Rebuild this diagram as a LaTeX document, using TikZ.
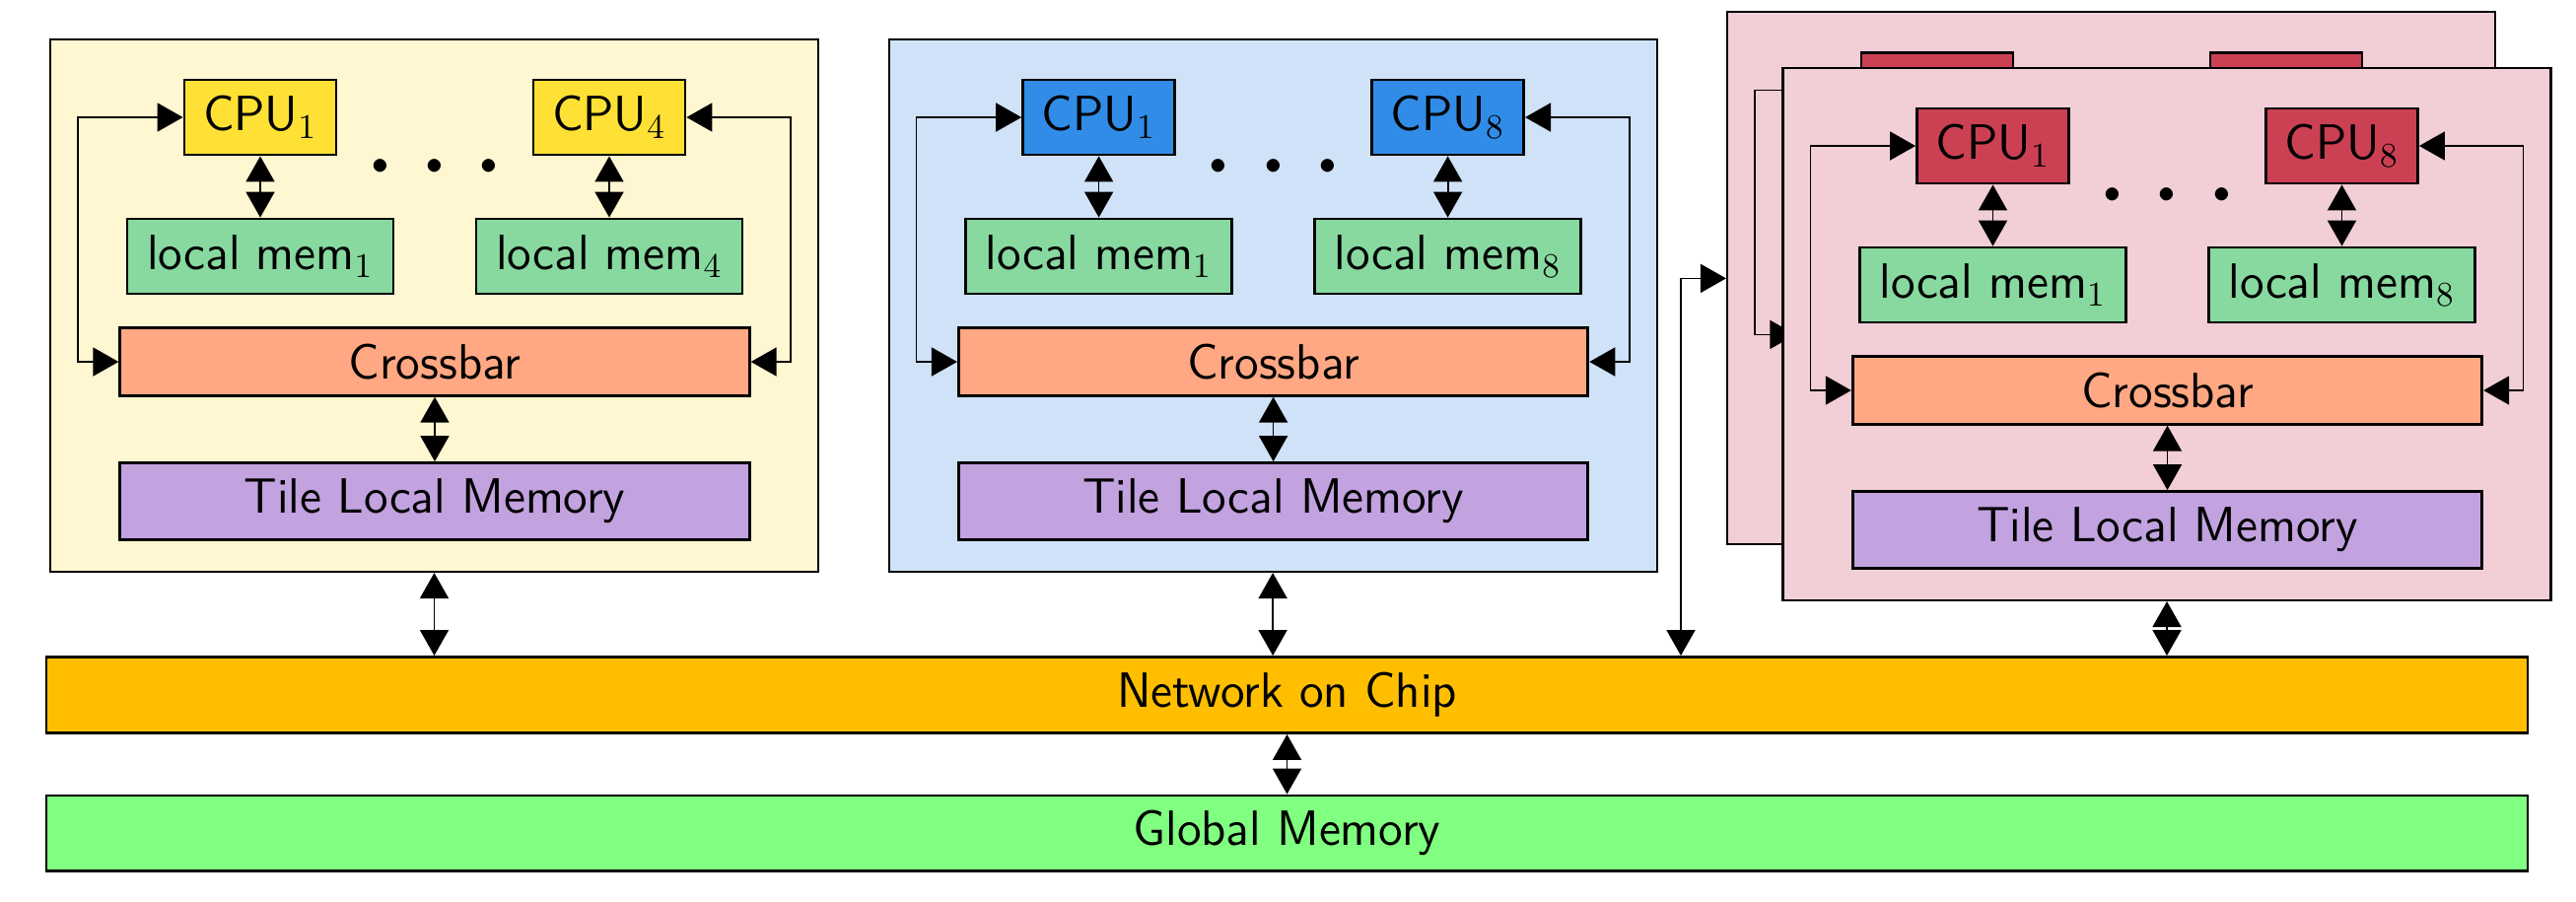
\documentclass[tikz,border=0pt]{standalone}
\usetikzlibrary{arrows.meta}

\definecolor{tileY}{HTML}{FFF7D1}
\definecolor{cpuY}{HTML}{FFE135}
\definecolor{tileB}{HTML}{CFE2F7}
\definecolor{cpuB}{HTML}{318CE7}
\definecolor{tileR}{HTML}{F2CED6}
\definecolor{cpuR}{HTML}{CC4054}
\definecolor{memG}{HTML}{87D9A0}
\definecolor{xbarO}{HTML}{FFA883}
\definecolor{tlmP}{HTML}{C2A2DF}
\definecolor{nocO}{HTML}{FFBF00}
\definecolor{globG}{HTML}{80FF80}

\begin{document}
\begin{tikzpicture}[>={Triangle[length=2.6mm,width=2.9mm]},
    box/.style={draw,line width=0.8pt,inner sep=0pt,font=\fontsize{14.3}{17}\sffamily\selectfont},
    tilebox/.style={draw,line width=0.6pt,minimum width=7.79cm,minimum height=5.40cm},
    link/.style={<->,line width=0.5pt},
    front/.style={},
    back/.style={every node/.append style={execute at begin node={\setbox0=\hbox\bgroup},
        execute at end node={\egroup}}}]

    \useasboundingbox (0,0) rectangle (26.13,-9.14);

    % tiles: yellow, blue, red (back, its labels are hidden), red (front)
    \foreach \x/\y/\n/\bg/\cpu/\k/\st in {0.51/-0.40/Y/tileY/cpuY/4/front, 9.016/-0.40/B/tileB/cpuB/8/front,
        17.52/-0.124/R/tileR/cpuR/8/back, 18.085/-0.69/S/tileR/cpuR/8/front}{
    \begin{scope}[shift={(\x,\y)},\st]
        \node[tilebox,fill=\bg] (tile\n) at (3.895,-2.70) {};
        \node[box,fill=\cpu,minimum width=1.54cm,minimum height=0.76cm] (cpuA\n) at (2.13,-0.79) {CPU$_1$};
        \node[box,fill=\cpu,minimum width=1.54cm,minimum height=0.76cm] (cpuB\n) at (5.67,-0.79) {CPU$_\k$};
        \node[box,fill=memG,minimum width=2.70cm,minimum height=0.76cm] (memA\n) at (2.13,-2.20) {local mem$_1$};
        \node[box,fill=memG,minimum width=2.70cm,minimum height=0.76cm] (memB\n) at (5.67,-2.20) {local mem$_\k$};
        \node[font=\fontsize{24.88}{25}\selectfont,scale=1.43,inner sep=0pt,anchor=base] (dots\n) at (3.90,-1.59) {$\cdots$};
        \node[box,fill=xbarO,minimum width=6.385cm,minimum height=0.685cm] (xbar\n) at (3.90,-3.27) {Crossbar};
        \node[box,fill=tlmP,minimum width=6.385cm,minimum height=0.78cm] (tlm\n) at (3.90,-4.685) {Tile Local Memory};
        \coordinate (ll\n) at (0.28,0);
        \coordinate (rl\n) at (7.51,0);

        \draw[link] (cpuA\n.south) -- (memA\n.north);
        \draw[link] (cpuB\n.south) -- (memB\n.north);
        \draw[link] (xbar\n.south) -- (tlm\n.north);
        \draw[link] (cpuA\n.west) -- (cpuA\n.west -| ll\n) -- (xbar\n.west -| ll\n) -- (xbar\n.west);
        \draw[link] (cpuB\n.east) -- (cpuB\n.east -| rl\n) -- (xbar\n.east -| rl\n) -- (xbar\n.east);
    \end{scope}
    }

    \node[box,fill=nocO,minimum width=25.17cm,minimum height=0.771cm] (noc) at (13.055,-7.05) {Network on Chip};
    \node[box,fill=globG,minimum width=25.17cm,minimum height=0.765cm] (glob) at (13.055,-8.452) {Global Memory};
    \coordinate (bend) at (17.05,0);

    \draw[link] (tileY.south) -- (tileY.south |- noc.north);
    \draw[link] (tileB.south) -- (tileB.south |- noc.north);
    \draw[link] (tileS.south) -- (tileS.south |- noc.north);
    \draw[link] (noc.north -| bend) |- (tileR.west);
    \draw[link] (noc.south) -- (glob.north);
\end{tikzpicture}
\end{document}
